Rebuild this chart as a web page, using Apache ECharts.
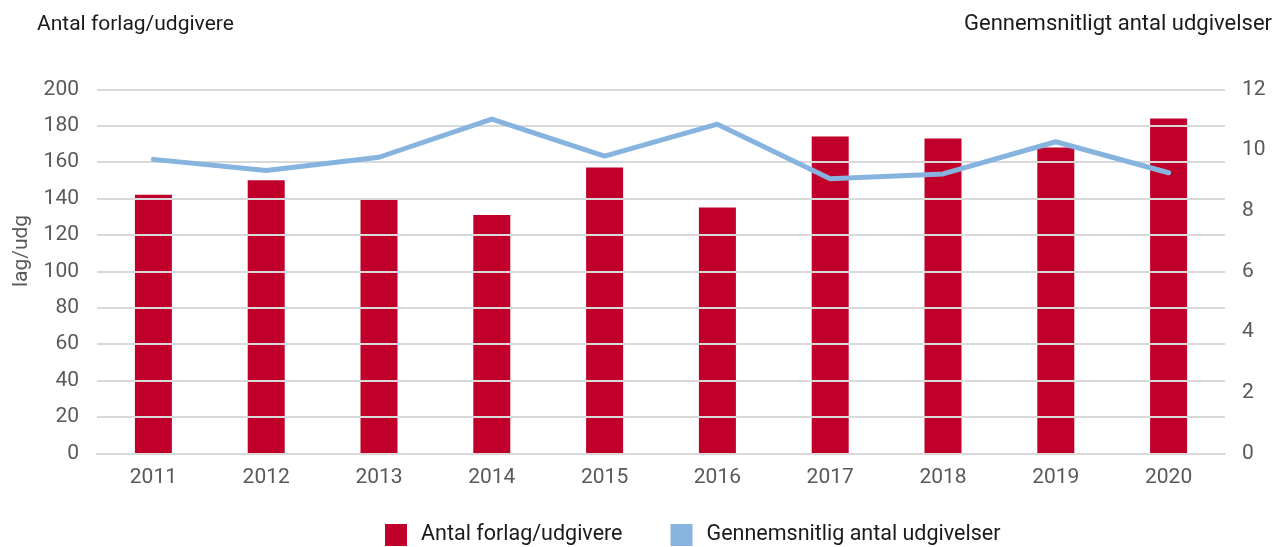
<!DOCTYPE html>
<html>
<head>
<meta charset="utf-8">
<script src="https://cdn.jsdelivr.net/npm/echarts@6/dist/echarts.min.js"></script>
<style>
html,body{margin:0;padding:0;background:#fff;}
#chart{width:1279px;height:547px;}
</style>
</head>
<body>
<div id="chart"></div>
<script>
const years = ['2011','2012','2013','2014','2015','2016','2017','2018','2019','2020'];
const publishers = [142, 150, 140, 131, 157, 135, 174, 173, 168, 184];
const avgReleases = [9.69, 9.32, 9.76, 11.02, 9.80, 10.85, 9.05, 9.21, 10.27, 9.25];
const leftTitle = 'Antal forlag/udgivere';
const rightTitle = 'Gennemsnitligt antal udgivelser';
const yName = 'lag/udg';
const barName = 'Antal forlag/udgivere';
const lineName = 'Gennemsnitlig antal udgivelser';

const FONT = 'Roboto';
const chart = echarts.init(document.getElementById('chart'), null, {renderer: 'canvas'});
chart.setOption({
  animation: false,
  backgroundColor: '#ffffff',
  textStyle: {fontFamily: FONT},
  grid: {left: 97, right: 54, top: 89.3, bottom: 93.7, containLabel: false},
  graphic: [
    {type: 'text', left: 37, top: 14, style: {text: leftTitle, font: '21px ' + FONT, fill: '#1a1a1a'}},
    {type: 'text', right: 7, top: 13, style: {text: rightTitle, font: '22px ' + FONT, fill: '#1a1a1a'}},
    {type: 'text', x: 22, y: 251, rotation: Math.PI / 2,
     style: {text: yName, font: '21px ' + FONT, fill: '#595959', align: 'center', verticalAlign: 'middle'}}
  ],
  legend: {
    left: 380, top: 519,
    itemWidth: 22, itemHeight: 22, itemGap: 48,
    textStyle: {fontSize: 21.5, color: '#1a1a1a', fontFamily: FONT, padding: [6, 0, 0, 9]},
    data: [{name: barName, icon: 'rect'}, {name: lineName, icon: 'rect'}]
  },
  xAxis: {
    type: 'category', data: years,
    axisLine: {lineStyle: {color: '#d9d9d9', width: 2}},
    axisTick: {show: false},
    axisLabel: {color: '#595959', fontSize: 21, margin: 14}
  },
  yAxis: [
    {
      type: 'value', min: 0, max: 200, interval: 20, z: 2,
      axisLine: {show: false}, axisTick: {show: false},
      axisLabel: {color: '#595959', fontSize: 21, margin: 18},
      splitLine: {lineStyle: {color: '#d9d9d9', width: 2}}
    },
    {
      type: 'value', min: 0, max: 12, interval: 2, position: 'right',
      axisLine: {show: false}, axisTick: {show: false},
      axisLabel: {color: '#595959', fontSize: 21, margin: 17},
      splitLine: {show: false}
    }
  ],
  series: [
    {
      name: barName, type: 'bar', data: publishers, barWidth: 37, z: 1,
      itemStyle: {color: '#c0002b'}
    },
    {
      name: lineName, type: 'line', yAxisIndex: 1, data: avgReleases, z: 3,
      symbol: 'none', color: '#86b4de',
      lineStyle: {color: '#86b4de', width: 5, cap: 'round', join: 'round'}
    }
  ]
});
</script>
</body>
</html>
